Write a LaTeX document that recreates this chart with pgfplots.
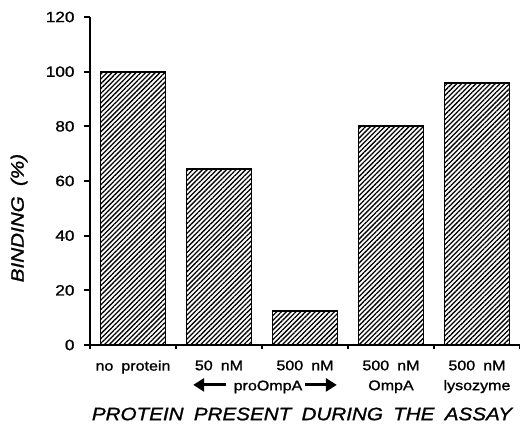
\documentclass[border=0pt]{standalone}
\usepackage{fontspec}
\setmainfont{Liberation Sans}[FakeStretch=1.15, WordSpace=1.8, FakeBold=1.2]
\usepackage{pgfplots}
\pgfplotsset{compat=1.18}
\usetikzlibrary{patterns.meta,arrows.meta}
\begin{document}
\begin{tikzpicture}
\begin{axis}[
  at={(0,0)}, anchor=south west,
  scale only axis, width=430bp, height=328bp,
  xmin=-0.5, xmax=4.5, ymin=0, ymax=120,
  axis lines*=left,
  axis line style={line width=2.2bp, black},
  tick align=outside,
  ytick={0,20,...,120},
  major tick length=6bp,
  minor tick length=4bp,
  y tick style={line width=2bp, black},
  xtick={0,...,4},
  xticklabels={no protein, 50 nM, 500 nM, {500 nM\\OmpA}, {500 nM\\lysozyme}},
  major x tick style={draw=none},
  minor xtick={-0.5,0.5,...,4.5},
  minor x tick style={line width=1.4bp, black},
  /pgf/number format/assume math mode=true,
  yticklabel style={font=\fontsize{15}{17}\selectfont, xshift=-6bp},
  xticklabel style={font=\fontsize{14}{20}\selectfont, align=center, yshift=-6bp},
  ylabel={\itshape BINDING (\%)},
  ylabel style={font=\fontsize{18}{20}\selectfont, at={(axis description cs:-0.165,0.387)}, anchor=center, rotate=0},
  xlabel={\itshape PROTEIN PRESENT DURING THE ASSAY},
  xlabel style={font=\fontsize{18}{20}\selectfont, at={(axis description cs:0.493,0)}, anchor=center, yshift=-69bp},
  clip=false,
]
\addplot[ybar, bar width=65bp, draw=black, line width=1.9bp,
  pattern={Lines[angle=45,distance=3.4bp,line width=1.3bp]}]
  coordinates {(0,100) (1,64.5) (2,12.4) (3,80) (4,96)};
\draw[line width=3bp, -{Triangle[length=11bp,width=13bp]}] (axis cs:1.08,-14.6) -- (axis cs:0.70,-14.6);
\draw[line width=3bp, -{Triangle[length=11bp,width=13bp]}] (axis cs:2.0,-14.6) -- (axis cs:2.37,-14.6);
\node[anchor=base, font=\fontsize{14}{17}\selectfont, inner sep=0pt] at (axis cs:1.57,-16.6) {proOmpA};
\end{axis}
\pgfresetboundingbox
\path (-90bp,-80bp) rectangle (430bp,345bp);
\end{tikzpicture}
\end{document}
